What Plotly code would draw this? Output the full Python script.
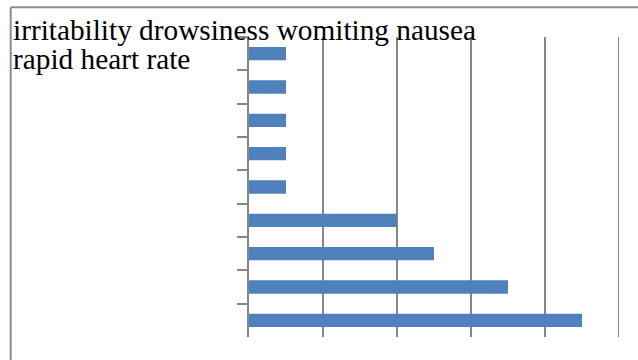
import plotly.graph_objects as go

# Data (top to bottom as drawn)
categories = ["irritability", "drowsiness", "womiting", "nausea", "rapid heart rate",
              "headache", "insomnia", "nervousness", "none"]
values = [1, 1, 1, 1, 1, 4, 5, 7, 9]
label_line1 = "irritability drowsiness womiting nausea"
label_line2 = "rapid heart rate"
x_max = 10

W, H = 638, 360
L, R, T, B = 249, 19, 37, 23
pw, ph = W - L - R, H - T - B

def px_x(px):
    return (px - L) / pw

def px_y(py):
    return (H - B - py) / ph

GRAY = "#878787"

fig = go.Figure(go.Bar(
    x=values, y=categories, orientation="h",
    marker=dict(color="#4F81BD", line=dict(width=0)),
    hoverinfo="skip",
))

fig.update_layout(
    width=W, height=H, autosize=False,
    margin=dict(l=L, r=R, t=T, b=B, pad=0),
    paper_bgcolor="white", plot_bgcolor="white",
    bargap=0.6, showlegend=False,
    xaxis=dict(range=[0, x_max], dtick=2, showgrid=True, gridcolor=GRAY, gridwidth=2,
               showticklabels=False, zeroline=False, showline=False, ticks=""),
    yaxis=dict(type="category", categoryorder="array", categoryarray=categories,
               autorange="reversed", showgrid=False, showline=True, linecolor=GRAY,
               linewidth=2, ticks="outside", tickson="boundaries", ticklen=10,
               tickwidth=2, tickcolor=GRAY, showticklabels=False, zeroline=False),
    shapes=[
        # gridline at the axis maximum (Plotly omits it at the plot edge)
        dict(type="line", xref="x", yref="paper", x0=x_max, x1=x_max, y0=0, y1=1,
             layer="below", line=dict(color=GRAY, width=2)),
        dict(type="line", xref="paper", yref="paper", x0=px_x(10.7), x1=px_x(700),
             y0=px_y(7.3), y1=px_y(7.3), line=dict(color="#8c8c8c", width=2)),
        dict(type="line", xref="paper", yref="paper", x0=px_x(10.7), x1=px_x(10.7),
             y0=px_y(7.3), y1=px_y(420), line=dict(color="#8c8c8c", width=2)),
    ],
    annotations=[
        dict(text=label_line1, xref="paper", yref="paper", x=px_x(11), y=px_y(12.2),
             xanchor="left", yanchor="top", showarrow=False,
             font=dict(family="Liberation Serif", size=29.3, color="black")),
        dict(text=label_line2, xref="paper", yref="paper", x=px_x(11), y=px_y(41.2),
             xanchor="left", yanchor="top", showarrow=False,
             font=dict(family="Liberation Serif", size=29.3, color="black")),
    ],
)

fig.write_html("out.html")
